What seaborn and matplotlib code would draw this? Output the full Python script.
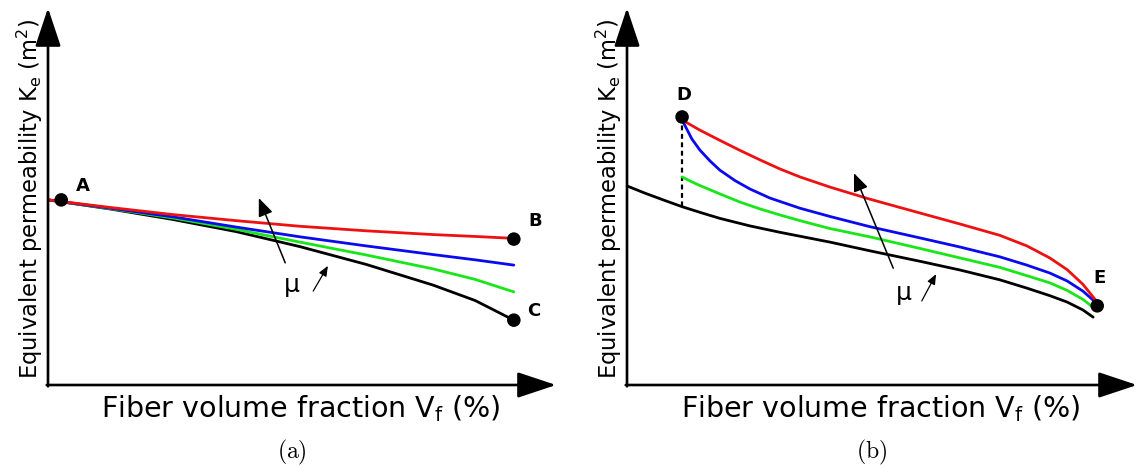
import matplotlib
matplotlib.use("Agg")
import matplotlib.pyplot as plt
import pandas as pd
import seaborn as sns

sns.set_theme(style="white")
plt.rcParams["font.family"] = ["DejaVu Sans"]
plt.rcParams["text.color"] = "black"

# ---------------- panel (a): curves fanning out from A ----------------
vf_a = [0, 12.2, 24.6, 37.0, 49.6, 62.6, 75.8, 84.1, 91.7]
ke_a_black = [49.1, 46.7, 43.9, 40.7, 36.7, 32.0, 26.5, 22.4, 17.2]
ke_a_green = [49.1, 46.8, 44.3, 41.3, 37.9, 34.5, 30.8, 28.0, 24.7]
ke_a_blue = [49.1, 46.9, 44.6, 41.9, 39.3, 36.9, 34.6, 33.2, 31.8]
ke_a_red = [49.1, 47.1, 45.2, 43.6, 42.1, 40.9, 39.9, 39.4, 38.9]
points_a = ["A", "B", "C"]
points_a_vf = [2.6, 91.7, 91.7]
points_a_ke = [49.1, 38.7, 17.2]

# ---------------- panel (b): curves converging to E ----------------
vf_b_black = [0, 3.5, 7.5, 10.8, 14.3, 18.2, 24.1, 30.0, 39.8, 47.6, 57.5,
              65.3, 73.1, 78.4, 82.9, 86.3, 89.4, 91.4]
ke_b_black = [52.8, 50.9, 48.9, 47.3, 45.8, 44.2, 42.2, 40.5, 37.9, 35.6, 32.8,
              30.5, 27.9, 25.7, 23.7, 22.0, 19.9, 18.0]
vf_b_green = [10.8, 12.4, 14.3, 18.2, 22.2, 26.1, 30.0, 33.9, 39.8, 47.6, 57.5,
              65.3, 73.1, 78.4, 82.9, 86.3, 89.4, 91.6]
ke_b_green = [55.2, 54.1, 52.9, 50.7, 48.5, 46.7, 45.1, 43.6, 41.5, 39.3, 36.2,
              33.7, 31.2, 29.0, 27.1, 25.1, 22.7, 20.4]
vf_b_blue = [10.8, 11.6, 12.7, 14.3, 16.3, 18.2, 21.2, 24.1, 28.0, 33.9, 39.8,
             47.6, 57.5, 65.3, 73.1, 78.4, 82.9, 86.3, 89.4, 91.4, 92.2]
ke_b_blue = [70.3, 68.2, 65.3, 62.3, 59.4, 57.0, 54.2, 52.0, 49.6, 46.9, 44.7,
             42.0, 39.0, 36.6, 34.0, 31.8, 29.7, 27.6, 24.9, 22.5, 21.2]
vf_b_red = [10.8, 14.3, 18.2, 22.2, 26.1, 30.0, 33.9, 39.8, 47.6, 57.5, 65.3,
            73.1, 78.4, 82.9, 86.3, 89.4, 92.2]
ke_b_red = [70.3, 67.6, 64.9, 62.2, 59.7, 57.3, 55.2, 52.5, 49.3, 45.6, 42.7,
            39.7, 36.9, 33.7, 30.6, 26.7, 22.0]
points_b = ["D", "E"]
points_b_vf = [10.8, 92.2]
points_b_ke = [71.1, 21.0]
dashed_ke_bottom = 47.3

curve_order = ["black", "green", "blue", "red"]
palette = {"black": "#000000", "green": "#19e619", "blue": "#0a0aee", "red": "#ee1111"}

fig = plt.figure(figsize=(11.37, 4.67), dpi=100)
ax_a = fig.add_axes([48 / 1137, 82 / 467, 508 / 1137, 377 / 467])
ax_b = fig.add_axes([627 / 1137, 82 / 467, 510 / 1137, 377 / 467])


def long_frame(pairs):
    rows = []
    for name, xs, ys in pairs:
        for x, y in zip(xs, ys):
            rows.append({"Vf": x, "Ke": y, "curve": name})
    return pd.DataFrame(rows)


df_a = long_frame([
    ("black", vf_a, ke_a_black),
    ("green", vf_a, ke_a_green),
    ("blue", vf_a, ke_a_blue),
    ("red", vf_a, ke_a_red),
])
df_b = long_frame([
    ("black", vf_b_black, ke_b_black),
    ("green", vf_b_green, ke_b_green),
    ("blue", vf_b_blue, ke_b_blue),
    ("red", vf_b_red, ke_b_red),
])


def draw_axes_frame(ax, tag):
    ax.set_xlim(0, 100)
    ax.set_ylim(0, 100)
    ax.axis("off")
    arrow = dict(arrowstyle="-|>,head_length=2.4,head_width=0.8", mutation_scale=10,
                 lw=1.9, color="black", shrinkA=0, shrinkB=0)
    ax.annotate("", xy=(1, 0), xytext=(-0.0025, 0), xycoords="axes fraction",
                arrowprops=arrow, annotation_clip=False)
    ax.annotate("", xy=(0, 1), xytext=(0, -0.0035), xycoords="axes fraction",
                arrowprops=arrow, annotation_clip=False)
    ax.text(0.498, -0.062, "Fiber volume fraction V$_\\mathrm{f}$ (%)", transform=ax.transAxes,
            ha="center", va="center", fontsize=20.5)
    ax.text(-0.036, 0.495, "Equivalent permeability K$_\\mathrm{e}$ (m$^2$)",
            transform=ax.transAxes, rotation=90, ha="center", va="center", fontsize=16.3)
    ax.text(0.48, -0.18, "$\\mathrm{(" + tag + ")}$", transform=ax.transAxes,
            ha="center", va="center", fontsize=17, math_fontfamily="cm")


def draw_mu_arrows(ax, big_tail, big_head, small_tail, small_head, mu_pos):
    ax.annotate("", xy=big_head, xytext=big_tail,
                arrowprops=dict(arrowstyle="-|>,head_length=1.1,head_width=0.45",
                                mutation_scale=10, lw=1.1, color="black",
                                shrinkA=0, shrinkB=0))
    ax.annotate("", xy=small_head, xytext=small_tail,
                arrowprops=dict(arrowstyle="-|>,head_length=0.6,head_width=0.25",
                                mutation_scale=10, lw=0.9, color="black",
                                shrinkA=0, shrinkB=0))
    ax.text(mu_pos[0], mu_pos[1], "μ", ha="center", va="center", fontsize=18)


# ---- panel (a)
draw_axes_frame(ax_a, "a")
sns.lineplot(data=df_a, x="Vf", y="Ke", hue="curve", hue_order=curve_order,
             palette=palette, estimator=None, sort=False, legend=False,
             lw=2.0, ax=ax_a)
sns.scatterplot(x=points_a_vf, y=points_a_ke, color="black", s=95, edgecolor="none",
                ax=ax_a, zorder=5)
label_offsets_a = [(22, 14), (21, 18), (20, 9)]
for name, x, y, off in zip(points_a, points_a_vf, points_a_ke, label_offsets_a):
    ax_a.annotate(name, (x, y), xytext=off, textcoords="offset pixels",
                  ha="center", va="center", fontsize=13, fontweight="bold")
draw_mu_arrows(ax_a, (46.7, 32.4), (41.5, 49.6), (52.2, 24.9), (55.1, 31.6), (48.0, 26.5))

# ---- panel (b)
draw_axes_frame(ax_b, "b")
ax_b.plot([points_b_vf[0], points_b_vf[0]], [points_b_ke[0], dashed_ke_bottom],
          ls=(0, (2.2, 1.6)), color="black", lw=1.6)
sns.lineplot(data=df_b, x="Vf", y="Ke", hue="curve", hue_order=curve_order,
             palette=palette, estimator=None, sort=False, legend=False,
             lw=2.0, ax=ax_b)
sns.scatterplot(x=points_b_vf, y=points_b_ke, color="black", s=95, edgecolor="none",
                ax=ax_b, zorder=5)
label_offsets_b = [(2, 22), (2, 28)]
for name, x, y, off in zip(points_b, points_b_vf, points_b_ke, label_offsets_b):
    ax_b.annotate(name, (x, y), xytext=off, textcoords="offset pixels",
                  ha="center", va="center", fontsize=13, fontweight="bold")
draw_mu_arrows(ax_b, (52.2, 31.0), (44.5, 56.2), (57.8, 22.3), (60.6, 29.4), (54.3, 24.4))

for ax in (ax_a, ax_b):
    ax.set_xlim(0, 100)
    ax.set_ylim(0, 100)

fig.savefig("out.png", dpi=100)
